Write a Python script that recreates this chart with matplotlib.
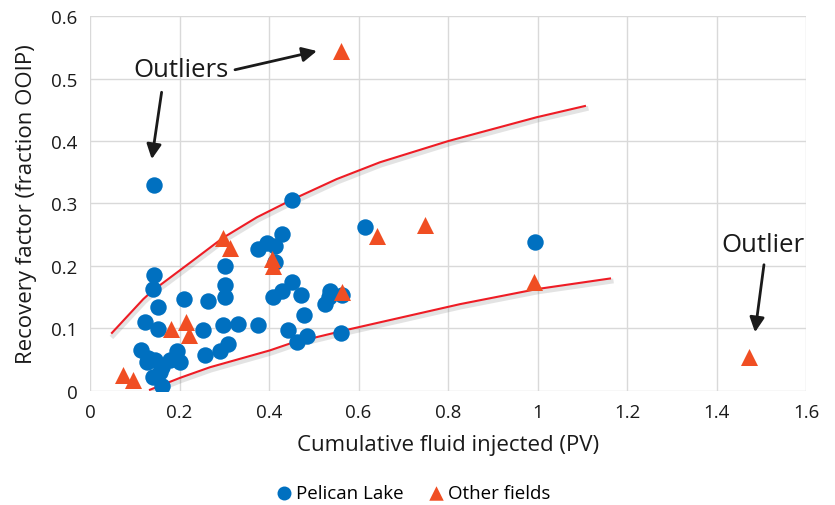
import matplotlib.pyplot as plt
import matplotlib.patheffects as pe

plt.rcParams['font.family'] = ['Open Sans', 'DejaVu Sans']

# Pelican Lake polymer floods
pelican_pv = [0.144, 0.144, 0.141, 0.153, 0.209, 0.123, 0.153, 0.253, 0.264, 0.302,
              0.302, 0.302, 0.298, 0.331, 0.376, 0.309, 0.290, 0.257, 0.114, 0.127,
              0.130, 0.145, 0.160, 0.179, 0.195, 0.201, 0.141, 0.160, 0.156, 0.376,
              0.395, 0.413, 0.428, 0.413, 0.408, 0.428, 0.451, 0.471, 0.479, 0.536,
              0.533, 0.525, 0.562, 0.443, 0.462, 0.484, 0.560, 0.451, 0.615, 0.994]
pelican_rf = [0.330, 0.186, 0.163, 0.134, 0.147, 0.111, 0.099, 0.098, 0.144, 0.200,
              0.170, 0.151, 0.105, 0.107, 0.106, 0.075, 0.064, 0.058, 0.066, 0.046,
              0.053, 0.049, 0.038, 0.049, 0.064, 0.046, 0.022, 0.008, 0.030, 0.227,
              0.237, 0.232, 0.251, 0.206, 0.151, 0.160, 0.174, 0.154, 0.121, 0.160,
              0.150, 0.139, 0.154, 0.097, 0.078, 0.088, 0.093, 0.306, 0.262, 0.238]

# other field projects
other_pv = [0.560, 0.297, 0.313, 0.406, 0.410, 0.181, 0.215, 0.222, 0.074, 0.095,
            0.641, 0.749, 0.562, 0.992, 1.472]
other_rf = [0.544, 0.245, 0.228, 0.211, 0.200, 0.099, 0.110, 0.090, 0.026, 0.018,
            0.248, 0.265, 0.159, 0.174, 0.054]

# envelope curves
upper_pv = [0.049, 0.119, 0.139, 0.223, 0.297, 0.373, 0.451, 0.551, 0.648, 0.801, 0.998, 1.106]
upper_rf = [0.093, 0.147, 0.160, 0.205, 0.245, 0.278, 0.306, 0.339, 0.366, 0.400, 0.438, 0.456]
lower_pv = [0.134, 0.201, 0.268, 0.402, 0.447, 0.581, 0.827, 0.998, 1.162]
lower_rf = [0.002, 0.021, 0.038, 0.065, 0.076, 0.099, 0.139, 0.163, 0.180]

blue = '#0070C0'
orange = '#F04E23'

fig = plt.figure(figsize=(8.35, 5.06), dpi=100)
ax = fig.add_axes([0.1078, 0.2253, 0.8575, 0.7411])

shadow = [pe.SimpleLineShadow(offset=(0.8, -2), shadow_color='#666666', alpha=0.18,
                              linewidth=3.5),
          pe.Normal()]
ax.plot(upper_pv, upper_rf, color='#EE1C25', lw=1.5, path_effects=shadow, zorder=2)
ax.plot(lower_pv, lower_rf, color='#EE1C25', lw=1.5, path_effects=shadow, zorder=2)

ax.scatter(pelican_pv, pelican_rf, s=140, color=blue, marker='o',
           label='Pelican Lake', zorder=3, linewidths=0)
ax.scatter(other_pv, other_rf, s=150, color=orange, marker='^',
           label='Other fields', zorder=4, linewidths=0)

# outlier callouts
arrow = dict(arrowstyle='-|>', color='#1a1a1a', lw=2, mutation_scale=22,
             shrinkA=0, shrinkB=0)
ax.text(0.203, 0.514, 'Outliers', fontsize=18.5, ha='center', va='center', color='#1a1a1a')
ax.annotate('', xy=(0.507, 0.544), xytext=(0.324, 0.514), arrowprops=arrow)
ax.annotate('', xy=(0.138, 0.371), xytext=(0.160, 0.478), arrowprops=arrow)
ax.text(1.504, 0.234, 'Outlier', fontsize=18.5, ha='center', va='center', color='#1a1a1a')
ax.annotate('', xy=(1.486, 0.094), xytext=(1.506, 0.202), arrowprops=arrow)

ax.set_xlim(0, 1.6)
ax.set_ylim(0, 0.6)
ax.set_xticks([0, 0.2, 0.4, 0.6, 0.8, 1, 1.2, 1.4, 1.6])
ax.set_xticklabels(['0', '0.2', '0.4', '0.6', '0.8', '1', '1.2', '1.4', '1.6'])
ax.set_yticks([0, 0.1, 0.2, 0.3, 0.4, 0.5, 0.6])
ax.set_yticklabels(['0', '0.1', '0.2', '0.3', '0.4', '0.5', '0.6'])
ax.tick_params(length=0, labelsize=13.5, colors='#1a1a1a', pad=9)
ax.grid(True, color='#D9D9D9', lw=1)
ax.set_axisbelow(True)
for side in ax.spines:
    ax.spines[side].set_visible(False)

ax.set_xlabel('Cumulative fluid injected (PV)', fontsize=16, color='#1a1a1a', labelpad=9)
ax.set_ylabel('Recovery factor (fraction OOIP)', fontsize=16, color='#1a1a1a', labelpad=10)

fig.legend(loc='lower center', bbox_to_anchor=(0.495, -0.028), ncol=2, frameon=False,
           fontsize=13.5, handlelength=0.8, handletextpad=0.25, columnspacing=1.3,
           markerscale=0.85)

fig.savefig('out.png', dpi=100)
